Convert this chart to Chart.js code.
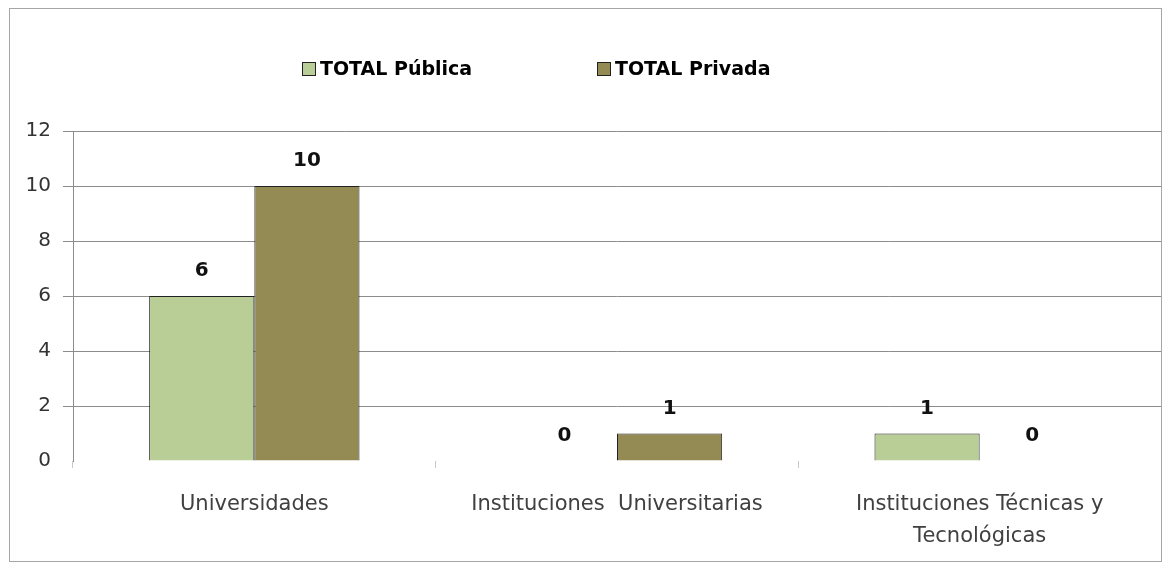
<!DOCTYPE html>
<html>
<head>
<meta charset="utf-8">
<script src="https://cdn.jsdelivr.net/npm/chart.js@4/dist/chart.umd.min.js"></script>
<style>
    html, body { margin: 0; padding: 0; background: #fff; }
    #frame {
        position: absolute;
        left: 9px; top: 8px;
        width: 1153px; height: 554px;
        box-sizing: border-box;
        border: 1px solid #a6a6a6;
    }
    #chart { display: block; }
</style>
</head>
<body>
<div id="frame"><canvas id="chart" width="1151" height="552"></canvas></div>
<script>
// Data
const categories = ['Universidades', 'Instituciones  Universitarias', ['Instituciones Técnicas y', 'Tecnológicas']];
const seriesNames = ['TOTAL Pública', 'TOTAL Privada'];
const publica = [6, 0, 1];
const privada = [10, 1, 0];
const yTicks = [0, 2, 4, 6, 8, 10, 12];

const FONT = 'DejaVu Sans';

// Legend drawn along the top, above the plot
const topLegend = {
    id: 'topLegend',
    afterDraw(chart) {
        const ctx = chart.ctx;
        const area = chart.chartArea;
        const starts = [area.left + 229, area.left + 524];
        ctx.save();
        ctx.font = 'bold 19px "' + FONT + '"';
        ctx.textBaseline = 'middle';
        ctx.textAlign = 'left';
        chart.data.datasets.forEach((ds, i) => {
            const x = starts[i];
            const y = 60;
            ctx.fillStyle = ds.backgroundColor;
            ctx.fillRect(x, y - 7, 14, 14);
            ctx.strokeStyle = '#222';
            ctx.lineWidth = 1;
            ctx.strokeRect(x + 0.5, y - 6.5, 13, 13);
            ctx.fillStyle = '#000';
            ctx.fillText(ds.label, x + 18, y + 1);
        });
        ctx.restore();
    }
};

// Value labels above each bar
const barValues = {
    id: 'barValues',
    afterDatasetsDraw(chart) {
        const ctx = chart.ctx;
        ctx.save();
        ctx.font = 'bold 20px "' + FONT + '"';
        ctx.fillStyle = '#111';
        ctx.textAlign = 'center';
        ctx.textBaseline = 'middle';
        chart.data.datasets.forEach((ds, i) => {
            chart.getDatasetMeta(i).data.forEach((bar, j) => {
                ctx.fillText(String(ds.data[j]), bar.x, bar.y - 25);
            });
        });
        ctx.restore();
    }
};

const ctx = document.getElementById('chart');
new Chart(ctx, {
    type: 'bar',
    data: {
        labels: categories,
        datasets: [{
            label: seriesNames[0],
            data: publica,
            backgroundColor: '#B9CD96',
            borderColor: '#222',
            borderWidth: 1,
            borderSkipped: 'bottom'
        }, {
            label: seriesNames[1],
            data: privada,
            backgroundColor: '#948A54',
            borderColor: '#222',
            borderWidth: 1,
            borderSkipped: 'bottom'
        }]
    },
    options: {
        responsive: false,
        animation: false,
        layout: { padding: { top: 122, right: 0, left: 0, bottom: 0 } },
        datasets: {
            bar: { categoryPercentage: 0.58, barPercentage: 1.0 }
        },
        plugins: {
            legend: { display: false },
            tooltip: { enabled: false }
        },
        scales: {
            x: {
                grid: {
                    offset: true,
                    drawOnChartArea: false,
                    drawTicks: true,
                    tickLength: 7,
                    color: '#c8c8c8'
                },
                border: { display: false },
                ticks: {
                    autoSkip: false,
                    maxRotation: 0,
                    minRotation: 0,
                    padding: 21,
                    color: '#404040',
                    font: { family: FONT, size: 21, lineHeight: 1.52 }
                },
                afterFit(scale) { scale.height = 100; }
            },
            y: {
                min: 0,
                max: 12,
                afterBuildTicks(scale) {
                    scale.ticks = yTicks.map(v => ({ value: v }));
                },
                grid: {
                    color: ctx => (ctx.tick && ctx.tick.value === 0) ? 'rgba(0,0,0,0)' : '#8c8c8c',
                    drawTicks: true,
                    tickLength: 10
                },
                border: { display: true, color: '#8c8c8c' },
                ticks: {
                    padding: 12,
                    color: '#333',
                    font: { family: FONT, size: 20 }
                },
                afterFit(scale) { scale.width = 63; }
            }
        }
    },
    plugins: [topLegend, barValues]
});
</script>
</body>
</html>
